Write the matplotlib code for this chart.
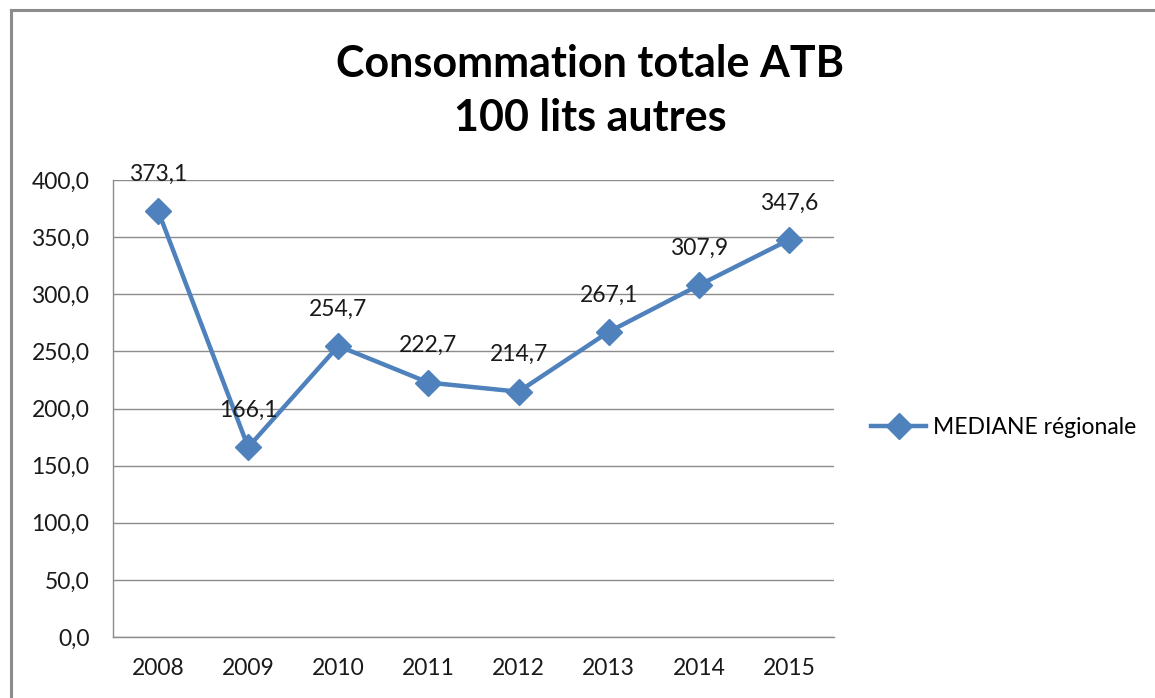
import matplotlib
matplotlib.use("Agg")
import matplotlib.pyplot as plt
from matplotlib.lines import Line2D

years = ["2008", "2009", "2010", "2011", "2012", "2013", "2014", "2015"]
mediane = [373.1, 166.1, 254.7, 222.7, 214.7, 267.1, 307.9, 347.6]
yticks = [0, 50, 100, 150, 200, 250, 300, 350, 400]
series_name = "MEDIANE régionale"
title = "Consommation totale ATB\n100 lits autres"

plt.rcParams['font.family'] = ['Lato', 'DejaVu Sans']

W, H = 1155, 698
fig = plt.figure(figsize=(W / 100, H / 100), dpi=100)

# figure frame (left & top visible)
fig.add_artist(Line2D([11 / W, 11 / W], [0, 1 - 10 / H], transform=fig.transFigure,
                      color='#8c8c8c', lw=2.2))
fig.add_artist(Line2D([11 / W, 1], [1 - 10 / H, 1 - 10 / H], transform=fig.transFigure,
                      color='#8c8c8c', lw=2.2))

ax = fig.add_axes([113 / W, 1 - 637 / H, 721 / W, 457 / H])
color = '#4F81BD'
x = list(range(len(years)))
ax.plot(x, mediane, color=color, lw=3.2, marker='D', markersize=13, label=series_name)

for xi, v in zip(x, mediane):
    ax.annotate(f"{v:.1f}".replace('.', ','), (xi, v), xytext=(0, 19),
                textcoords='offset points', ha='center', va='bottom', fontsize=16.5,
                color='#1a1a1a')

ax.set_xlim(-0.5, len(years) - 0.5)
ax.set_ylim(0, 400)
ax.set_yticks(yticks)
ax.set_yticklabels([f"{t:.1f}".replace('.', ',') for t in yticks])
ax.set_xticks(x)
ax.set_xticklabels(years)
ax.tick_params(axis='both', length=0, labelsize=16.5, colors='#1a1a1a')
ax.tick_params(axis='y', pad=17)
ax.tick_params(axis='x', pad=15)
ax.grid(axis='y', color='#8c8c8c', lw=1)
ax.set_axisbelow(True)
for s in ['top', 'right']:
    ax.spines[s].set_visible(False)
for s in ['left', 'bottom']:
    ax.spines[s].set_color('#8c8c8c')
    ax.spines[s].set_linewidth(1)

fig.text(590 / W, 1 - 91 / H, title, ha='center', va='center', fontsize=31,
         fontweight='bold', linespacing=1.42, color='black')

fig.legend(loc='center left', bbox_to_anchor=(862 / W, 1 - 428 / H), frameon=False,
           fontsize=16.5, handlelength=2.4, handletextpad=0.3, borderaxespad=0)

fig.savefig('out.png', dpi=100, facecolor='white')
